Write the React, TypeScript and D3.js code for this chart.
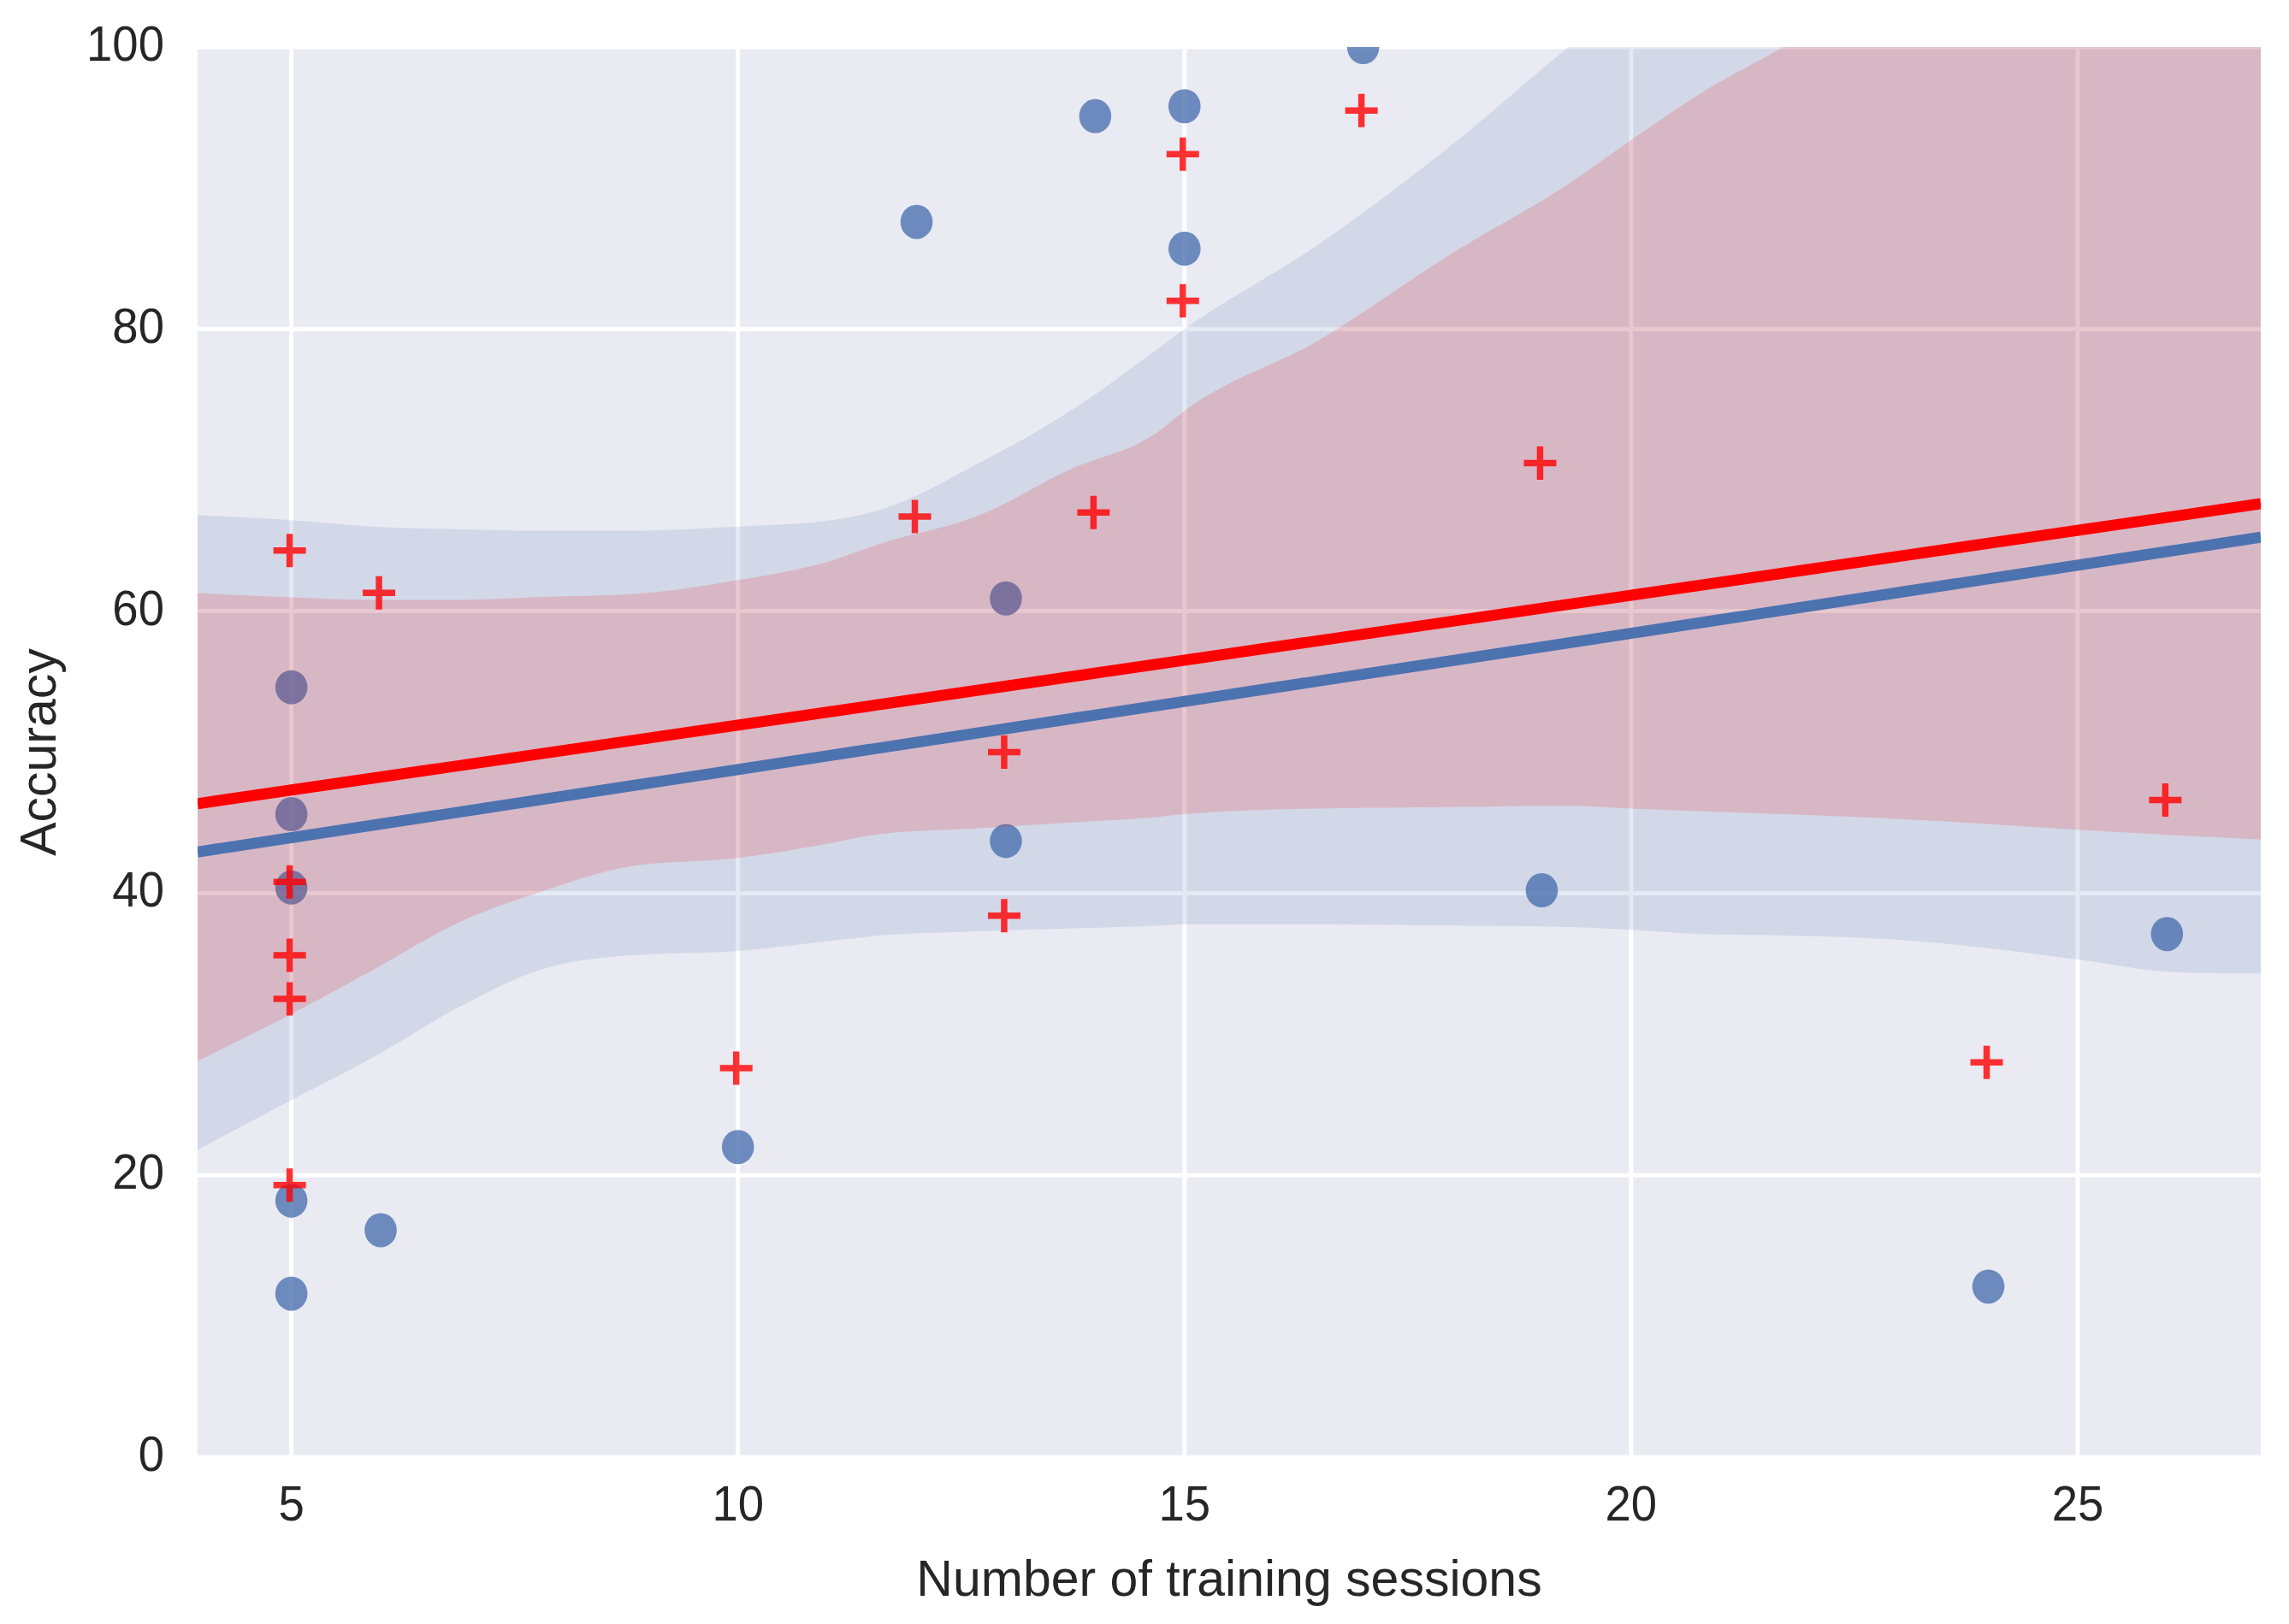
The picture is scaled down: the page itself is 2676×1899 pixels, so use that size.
import React from 'react';
import * as d3 from 'd3';

// number of training sessions per participant (shared by both groups)
const sessions = [5, 5, 5, 5, 5, 6, 10, 12, 13, 13, 14, 15, 15, 17, 19, 24, 26];
// blue circles
const blueAccuracy = [54.6, 45.6, 40.4, 18.2, 11.6, 16.1, 22.0, 87.6, 60.9, 43.7, 95.1, 95.8, 85.7, 100, 40.2, 12.1, 37.1];
// red pluses
const redAccuracy = [64.3, 40.8, 35.6, 32.5, 19.3, 61.3, 27.6, 66.7, 50.0, 38.4, 67.0, 92.4, 82.0, 95.5, 70.5, 28.0, 46.6];

// confidence bands
const bandX = [3.95, 4.9, 5.9, 6.9, 7.8, 8.8, 10, 11, 11.6, 12.7, 13.7, 14.7, 15, 16.5, 18, 19.3, 20, 20.8, 21.7, 23.2, 25, 26.1, 27.05];
const blueUpper = [66.8, 66.5, 66.0, 65.8, 65.7, 65.7, 66.0, 66.4, 67.2, 70.5, 74.1, 78.6, 80.0, 86.0, 93.1, 100.0, 103.5, 107, 111, 118, 126, 131, 135];
const blueLower = [21.8, 25.0, 28.3, 32.0, 34.6, 35.6, 35.9, 36.6, 37.0, 37.3, 37.5, 37.7, 37.8, 37.8, 37.7, 37.6, 37.4, 37.1, 37.0, 36.6, 35.3, 34.4, 34.3];
const redUpper = [61.3, 61.0, 60.8, 60.8, 61.0, 61.2, 62.2, 63.5, 64.8, 66.8, 70.0, 72.7, 74.2, 79.2, 85.4, 90.3, 93.4, 96.8, 100.0, 106, 113, 118, 122];
const redLower = [28.1, 31.1, 34.5, 38.0, 40.1, 41.9, 42.5, 43.5, 44.2, 44.6, 45.0, 45.4, 45.6, 46.0, 46.1, 46.2, 46.0, 45.8, 45.6, 45.2, 44.5, 44.1, 43.8];

const xTicks = [5, 10, 15, 20, 25];
const yTicks = [0, 20, 40, 60, 80, 100];

const W = 2676;
const H = 1899;
const plot = { left: 231, right: 2643, top: 55, bottom: 1704 };

const BLUE = '#4C72B0';
const RED = '#FF0000';
const FONT = '"Liberation Sans", Arial, sans-serif';

const fit = (xs: number[], ys: number[]) => {
  const mx = d3.mean(xs) as number;
  const my = d3.mean(ys) as number;
  const sxy = d3.sum(xs, (v, i) => (v - mx) * (ys[i] - my));
  const sxx = d3.sum(xs, (v) => (v - mx) ** 2);
  const b = sxy / sxx;
  return { a: my - b * mx, b };
};

const App = () => {
  const x = d3.scaleLinear().domain([3.95, 27.05]).range([plot.left, plot.right]);
  const y = d3.scaleLinear().domain([0, 100]).range([plot.bottom, plot.top]);

  const band = (lower: number[], upper: number[]) =>
    d3
      .area<number>()
      .x((d) => x(d))
      .y0((d, i) => y(lower[i]))
      .y1((d, i) => y(upper[i]))
      .curve(d3.curveMonotoneX)(bandX) as string;

  const regLine = (ys: number[]) => {
    const { a, b } = fit(sessions, ys);
    const [x0, x1] = x.domain();
    return d3.line()([
      [x(x0), y(a + b * x0)],
      [x(x1), y(a + b * x1)],
    ]) as string;
  };

  const plus = (cx: number, cy: number) => `M${cx - 19},${cy}H${cx + 19}M${cx},${cy - 19.5}V${cy + 19.5}`;

  return (
    <svg width={W} height={H} style={{ position: 'absolute', left: 0, top: 0, background: '#fff' }}>
      <defs>
        <clipPath id="plotClip">
          <rect x={plot.left} y={plot.top} width={plot.right - plot.left} height={plot.bottom - plot.top} />
        </clipPath>
      </defs>

      <rect x={plot.left} y={plot.top} width={plot.right - plot.left} height={plot.bottom - plot.top} fill="#EAEAF2" />

      {xTicks.map((t) => (
        <line key={'gx' + t} x1={x(t)} x2={x(t)} y1={plot.top} y2={plot.bottom} stroke="#fff" strokeWidth={5} />
      ))}
      {yTicks.map((t) => (
        <line key={'gy' + t} x1={plot.left} x2={plot.right} y1={y(t)} y2={y(t)} stroke="#fff" strokeWidth={5} />
      ))}

      <g clipPath="url(#plotClip)">
        {sessions.map((s, i) => (
          <ellipse key={'b' + i} cx={x(s)} cy={y(blueAccuracy[i])} rx={18.8} ry={20} fill={BLUE} fillOpacity={0.8} />
        ))}
        <path d={band(blueLower, blueUpper)} fill={BLUE} fillOpacity={0.15} />

        {sessions.map((s, i) => (
          <path key={'r' + i} d={plus(x(s) - 2, y(redAccuracy[i]))} stroke={RED} strokeOpacity={0.8} strokeWidth={7.5} fill="none" />
        ))}
        <path d={band(redLower, redUpper)} fill={RED} fillOpacity={0.15} />

        <path d={regLine(blueAccuracy)} stroke={BLUE} strokeWidth={13} fill="none" />
        <path d={regLine(redAccuracy)} stroke={RED} strokeWidth={13} fill="none" />
      </g>

      {yTicks.map((t) => (
        <text
          key={'ty' + t}
          transform={`translate(192,${y(t) + 16}) scale(0.94,1)`}
          textAnchor="end"
          fontFamily={FONT}
          fontSize={58}
          fill="#262626"
        >
          {t}
        </text>
      ))}
      {xTicks.map((t) => (
        <text
          key={'tx' + t}
          transform={`translate(${x(t)},1778) scale(0.94,1)`}
          textAnchor="middle"
          fontFamily={FONT}
          fontSize={58}
          fill="#262626"
        >
          {t}
        </text>
      ))}

      <text x={(plot.left + plot.right) / 2} y={1866} textAnchor="middle" fontFamily={FONT} fontSize={59} fill="#262626">
        Number of training sessions
      </text>
      <text
        transform={`translate(65,${(plot.top + plot.bottom) / 2}) rotate(-90)`}
        textAnchor="middle"
        fontFamily={FONT}
        fontSize={59}
        fill="#262626"
      >
        Accuracy
      </text>
    </svg>
  );
};

export default App;
